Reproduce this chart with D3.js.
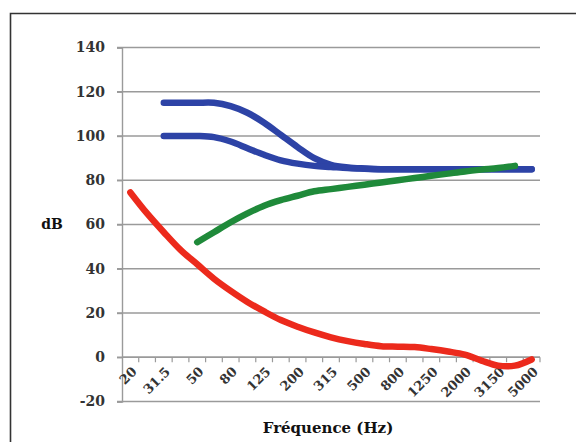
<!DOCTYPE html>
<html>
<head>
<meta charset="utf-8">
<script src="https://cdn.jsdelivr.net/npm/d3@7"></script>
<style>
  html, body { margin: 0; padding: 0; background: #fff; }
  svg { display: block; }
</style>
</head>
<body>
<svg id="chart" width="576" height="442"></svg>
<script>
// ---- data ----
const categories = ["20","25","31.5","40","50","63","80","100","125","160","200","250","315","400","500","630","800","1000","1250","1600","2000","2500","3150","4000","5000"];
const labelledCategories = ["20","31.5","50","80","125","200","315","500","800","1250","2000","3150","5000"];
const yTicks = [-20, 0, 20, 40, 60, 80, 100, 120, 140];

// hearing threshold (red)
const redValues = [74.5, 65, 56.5, 48.5, 42, 35.5, 30, 25, 20.7, 16.8, 13.8, 11.2, 9, 7.3, 6, 5, 4.8, 4.6, 3.7, 2.6, 1.2, -1.5, -3.8, -3.8, -1];
// upper blue
const blueHighValues = [null, null, 115, 115, 115, 115, 113.5, 110.5, 106, 100.5, 95, 90, 87, 85.8, 85.3, 85, 85, 85, 85, 85, 85, 85, 85, 85, 85];
// lower blue
const blueLowValues = [null, null, 100, 100, 100, 99.5, 97.5, 94.5, 91.5, 89, 87.5, 86.5, 86, 85.5, 85.2, 85, 85, 85, 85, 85, 85, 85, 85, 85, 85];
// green
const greenValues = [null, null, null, null, 52, 56.5, 61, 65, 68.5, 71, 73, 75, 76, 77, 78, 79, 80, 81, 82, 83, 84, 84.8, 85.5, 86.5, null];

const seriesList = [
  { name: "blueHigh", values: blueHighValues, color: "#2d43a6" },
  { name: "blueLow", values: blueLowValues, color: "#2d43a6" },
  { name: "green", values: greenValues, color: "#1f8a3a" },
  { name: "red", values: redValues, color: "#ec2a1c" }
];

// ---- layout ----
const svg = d3.select("#chart");
const plotLeft = 122, plotRight = 540, plotTop = 47.5, plotBottom = 401.5;

const x = d3.scaleBand().domain(categories).range([plotLeft, plotRight]).padding(0);
const y = d3.scaleLinear().domain([-20, 140]).range([plotBottom, plotTop]);
const cx = c => x(c) + x.bandwidth() / 2;

// frame (left + top border)
svg.append("path")
  .attr("d", `M10.5,442 V13.5 H576`)
  .attr("fill", "none")
  .attr("stroke", "#333")
  .attr("stroke-width", 1.6);

// gridlines
svg.append("g").selectAll("line")
  .data(yTicks)
  .join("line")
  .attr("x1", plotLeft - 5)
  .attr("x2", plotRight)
  .attr("y1", d => y(d))
  .attr("y2", d => y(d))
  .attr("stroke", "#9a9a9a")
  .attr("stroke-width", 1.4);

// y axis
const yAxis = svg.append("g")
  .attr("transform", `translate(${plotLeft},0)`)
  .call(d3.axisLeft(y).tickValues(yTicks).tickSize(5).tickPadding(12).tickFormat(d => String(d)));
yAxis.select(".domain").attr("stroke", "#9a9a9a").attr("stroke-width", 1.4);
yAxis.selectAll(".tick line").attr("stroke", "#9a9a9a").attr("stroke-width", 1.4);
yAxis.selectAll("text")
  .attr("font-family", "'DejaVu Serif', serif")
  .attr("font-weight", "bold")
  .attr("font-size", 14)
  .attr("fill", "#333");

// x axis at 0 with ticks at category boundaries
const xAxisY = y(0);
const xAxis = svg.append("g").attr("transform", `translate(0,${xAxisY})`);
xAxis.append("line")
  .attr("x1", plotLeft).attr("x2", plotRight)
  .attr("y1", 0).attr("y2", 0)
  .attr("stroke", "#9a9a9a").attr("stroke-width", 1.4);
const boundaries = categories.map(c => x(c)).concat([x.range()[1]]);
xAxis.selectAll("line.tk")
  .data(boundaries.slice(1))
  .join("line")
  .attr("class", "tk")
  .attr("x1", d => d).attr("x2", d => d)
  .attr("y1", 0).attr("y2", 5)
  .attr("stroke", "#9a9a9a").attr("stroke-width", 1.2);
xAxis.selectAll("text")
  .data(labelledCategories)
  .join("text")
  .attr("transform", d => `translate(${cx(d) + 4},${12}) rotate(-45)`)
  .attr("text-anchor", "end")
  .attr("dy", "0.35em")
  .attr("font-family", "'DejaVu Serif', serif")
  .attr("font-weight", "bold")
  .attr("font-size", 13)
  .attr("fill", "#333")
  .text(d => d);

// lines
const line = d3.line()
  .defined(d => d.v !== null)
  .x(d => cx(d.c))
  .y(d => y(d.v))
  .curve(d3.curveCatmullRom.alpha(0.5));

svg.append("g").selectAll("path")
  .data(seriesList)
  .join("path")
  .attr("d", s => line(categories.map((c, i) => ({ c, v: s.values[i] }))))
  .attr("fill", "none")
  .attr("stroke", s => s.color)
  .attr("stroke-width", 6.5)
  .attr("stroke-linecap", "round")
  .attr("stroke-linejoin", "round");

// axis titles
svg.append("text")
  .attr("x", 52).attr("y", y(60))
  .attr("dy", "0.35em")
  .attr("text-anchor", "middle")
  .attr("font-family", "'DejaVu Serif', serif")
  .attr("font-weight", "bold")
  .attr("font-size", 14)
  .attr("fill", "#111")
  .text("dB");

svg.append("text")
  .attr("x", 328).attr("y", 433)
  .attr("text-anchor", "middle")
  .attr("font-family", "'DejaVu Serif', serif")
  .attr("font-weight", "bold")
  .attr("font-size", 15)
  .attr("fill", "#111")
  .text("Fréquence (Hz)");
</script>
</body>
</html>
